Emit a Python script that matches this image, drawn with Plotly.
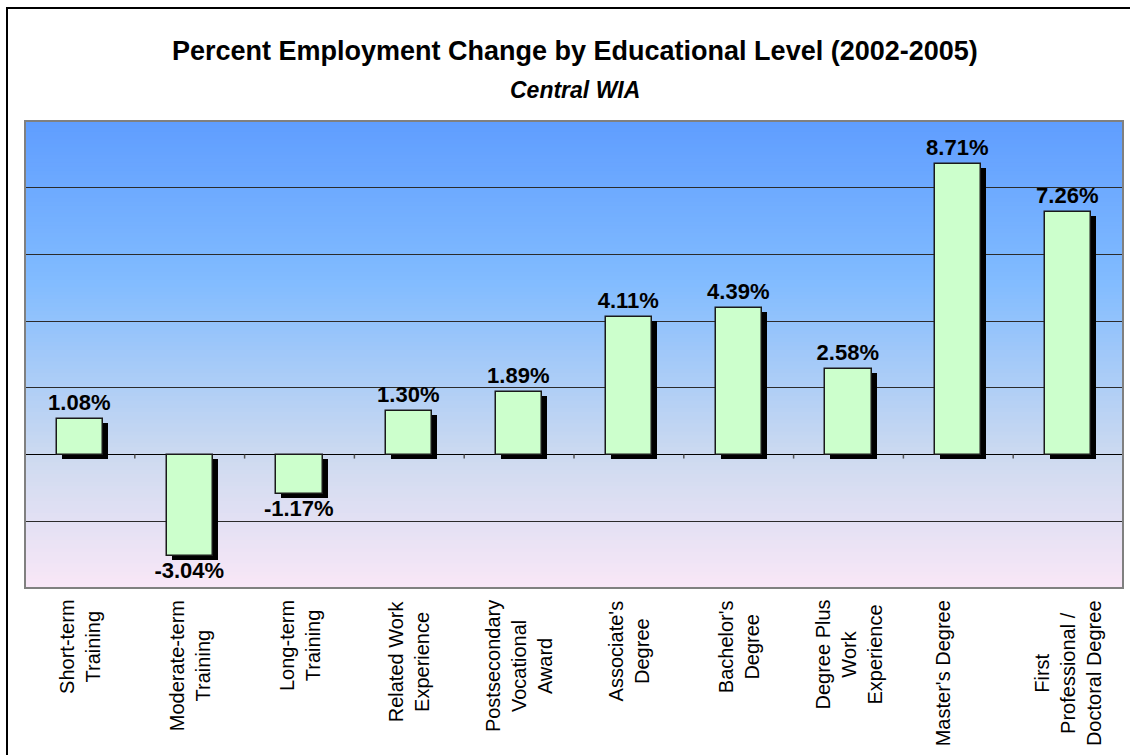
import plotly.graph_objects as go

# ---- data ----
categories = [
    "Short-term<br>Training",
    "Moderate-term<br>Training",
    "Long-term<br>Training",
    "Related Work<br>Experience",
    "Postsecondary<br>Vocational<br>Award",
    "Associate's<br>Degree",
    "Bachelor's<br>Degree",
    "Degree Plus<br>Work<br>Experience",
    "Master's Degree",
    "First<br>Professional /<br>Doctoral Degree",
]
pct_change = [1.08, -3.04, -1.17, 1.30, 1.89, 4.11, 4.39, 2.58, 8.71, 7.26]
value_labels = ["1.08%", "-3.04%", "-1.17%", "1.30%", "1.89%", "4.11%", "4.39%", "2.58%", "8.71%", "7.26%"]
title_text = "Percent Employment Change by Educational Level (2002-2005)"
subtitle_text = "Central WIA"

# ---- layout geometry / style ----
W, H = 1130, 755
L, R, T, B = 25, 7, 121, 167
plot_w = W - L - R
plot_h = H - T - B
y_min, y_max = -4, 10
n = len(categories)
xs = list(range(n))
bar_w = 0.42
px_x = plot_w / n            # px per category unit
px_y = plot_h / (y_max - y_min)  # px per % unit
sh_dx = 5 / px_x
sh_dy = 4 / px_y
FONT = "Liberation Sans, Arial, sans-serif"

fig = go.Figure()

# shadow
fig.add_trace(go.Bar(
    x=xs, y=pct_change, base=[-sh_dy] * n, width=bar_w,
    offset=-bar_w / 2 + sh_dx,
    marker=dict(color="black", line=dict(width=0)),
    hoverinfo="skip", showlegend=False,
))
# main bars
fig.add_trace(go.Bar(
    x=xs, y=pct_change, width=bar_w,
    marker=dict(color="#CCFFCC", line=dict(color="#1a1a1a", width=1.5)),
    text=value_labels, textposition="outside", constraintext="none",
    textfont=dict(family=FONT, size=22, color="black", weight="bold"),
    cliponaxis=False, showlegend=False,
))

# gradient background (top blue -> bottom pink)
stops = [(0.0, (95, 157, 255)), (0.35, (130, 188, 255)), (0.72, (205, 218, 240)), (1.0, (249, 231, 247))]
def col_at(t):
    for (t0, c0), (t1, c1) in zip(stops[:-1], stops[1:]):
        if t0 <= t <= t1:
            f = (t - t0) / (t1 - t0)
            return tuple(round(a + (b - a) * f) for a, b in zip(c0, c1))
    return stops[-1][1]
shapes = []
nstrip = 120
for i in range(nstrip):
    t = (i + 0.5) / nstrip
    c = col_at(t)
    shapes.append(dict(type="rect", xref="paper", yref="paper",
                       x0=0, x1=1, y0=1 - (i + 1) / nstrip, y1=1 - i / nstrip + 0.002,
                       fillcolor="rgb(%d,%d,%d)" % c, line=dict(width=0), layer="below"))
# plot-area border
shapes.append(dict(type="rect", xref="paper", yref="paper", x0=0, x1=1, y0=0, y1=1,
                   line=dict(color="#808080", width=2), layer="above"))
# outer chart border (left and top edges visible)
shapes.append(dict(type="rect", xref="paper", yref="paper",
                   x0=(7 - L) / plot_w, x1=1.2, y0=-1, y1=(plot_h + T - 8) / plot_h,
                   line=dict(color="black", width=2), layer="above"))
# category boundary ticks on zero line
for i in range(n - 1):
    shapes.append(dict(type="line", xref="x", yref="y", x0=i + 0.5, x1=i + 0.5,
                       y0=0, y1=-4 / px_y, line=dict(color="#555", width=1.5), layer="above"))

annotations = []
# title and subtitle
annotations.append(dict(text="<b>" + title_text + "</b>", xref="paper", yref="paper",
                        x=(575 - L) / plot_w, y=(plot_h + T - 51) / plot_h,
                        xanchor="center", yanchor="middle", showarrow=False,
                        font=dict(family=FONT, size=27, color="black")))
annotations.append(dict(text="<b><i>" + subtitle_text + "</i></b>", xref="paper", yref="paper",
                        x=(575 - L) / plot_w, y=(plot_h + T - 90) / plot_h,
                        xanchor="center", yanchor="middle", showarrow=False,
                        font=dict(family=FONT, size=23, color="black")))
# category labels
xshift = [0] * n
xshift[8] = -15
for i, lab in enumerate(categories):
    annotations.append(dict(text=lab, x=i, xref="x", yref="paper", y=-10 / plot_h,
                            xanchor="center", yanchor="top", textangle=-90, align="center",
                            showarrow=False, xshift=xshift[i],
                            font=dict(family=FONT, size=20, color="black")))

fig.update_layout(
    width=W, height=H,
    margin=dict(l=L, r=R, t=T, b=B, pad=0),
    paper_bgcolor="white", plot_bgcolor="white",
    barmode="overlay", bargap=0,
    shapes=shapes, annotations=annotations,
    xaxis=dict(range=[-0.5, n - 0.5], showticklabels=False, showgrid=False,
               zeroline=False, showline=False, ticks=""),
    yaxis=dict(range=[y_min, y_max], dtick=2, showticklabels=False,
               showgrid=True, gridcolor="#2b2b2b", gridwidth=1,
               zeroline=True, zerolinecolor="black", zerolinewidth=1,
               showline=False, ticks=""),
    font=dict(family=FONT),
)

fig.write_html("out.html", config={"displayModeBar": False},
               post_script="document.body.style.margin='0';document.body.style.overflow='hidden';")
